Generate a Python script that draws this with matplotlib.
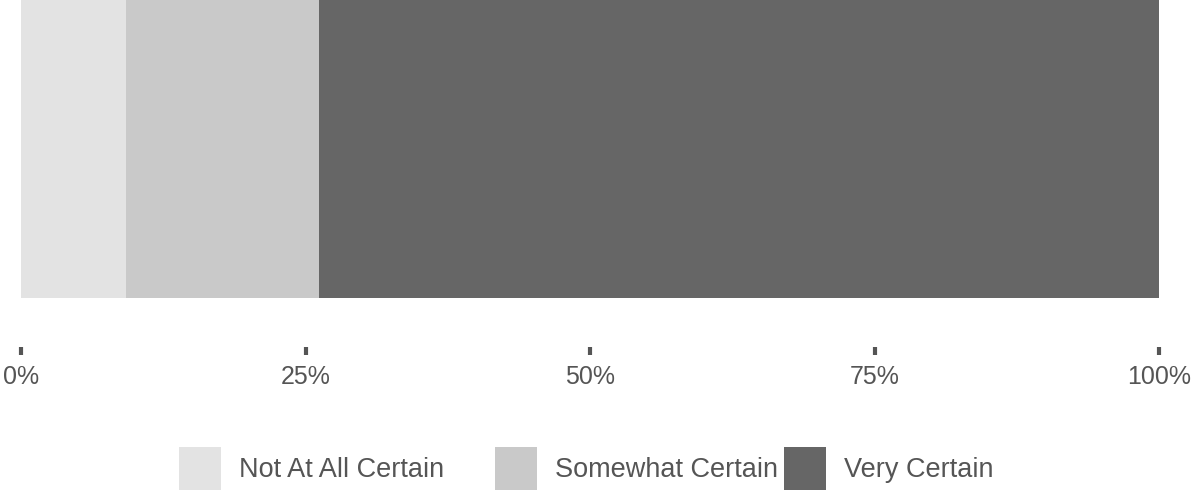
import matplotlib.pyplot as plt
from matplotlib.patches import Patch
from matplotlib.ticker import PercentFormatter

# data
categories = ["Not At All Certain", "Somewhat Certain", "Very Certain"]
shares = [9.2, 17.0, 73.8]
colors = ["#e3e3e3", "#c9c9c9", "#666666"]
ticks = [0, 25, 50, 75, 100]

W, H = 1196, 492
plt.rcParams['font.family'] = ['Liberation Sans', 'DejaVu Sans']
text_color = "#555555"

fig = plt.figure(figsize=(W / 100, H / 100), dpi=100)
ax = fig.add_axes([21 / W, 1 - 355 / H, (1159 - 21) / W, 355 / H])

left = 0
for cat, val, col in zip(categories, shares, colors):
    ax.barh(0, val, left=left, height=1.0, color=col, edgecolor='none')
    left += val

ax.set_xlim(0, 100)
ax.set_ylim(-0.5 - 57 / 298, 0.5)
ax.set_xticks(ticks)
ax.xaxis.set_major_formatter(PercentFormatter(decimals=0))
ax.set_yticks([])
for s in ax.spines.values():
    s.set_visible(False)
ax.tick_params(axis='x', direction='in', length=6, width=3, color=text_color,
               labelcolor=text_color, labelsize=18, pad=7)

# legend, one box per item
lefts = [179, 495, 784]
for cat, col, x in zip(categories, colors, lefts):
    fig.legend([Patch(facecolor=col, edgecolor='none')], [cat],
               loc='lower left', bbox_to_anchor=(x / W, 2 / H),
               frameon=False, fontsize=19.5, labelcolor=text_color,
               handlelength=1.55, handleheight=2.07, handletextpad=0.65,
               borderpad=0, borderaxespad=0)

fig.savefig("out.png", dpi=100)
